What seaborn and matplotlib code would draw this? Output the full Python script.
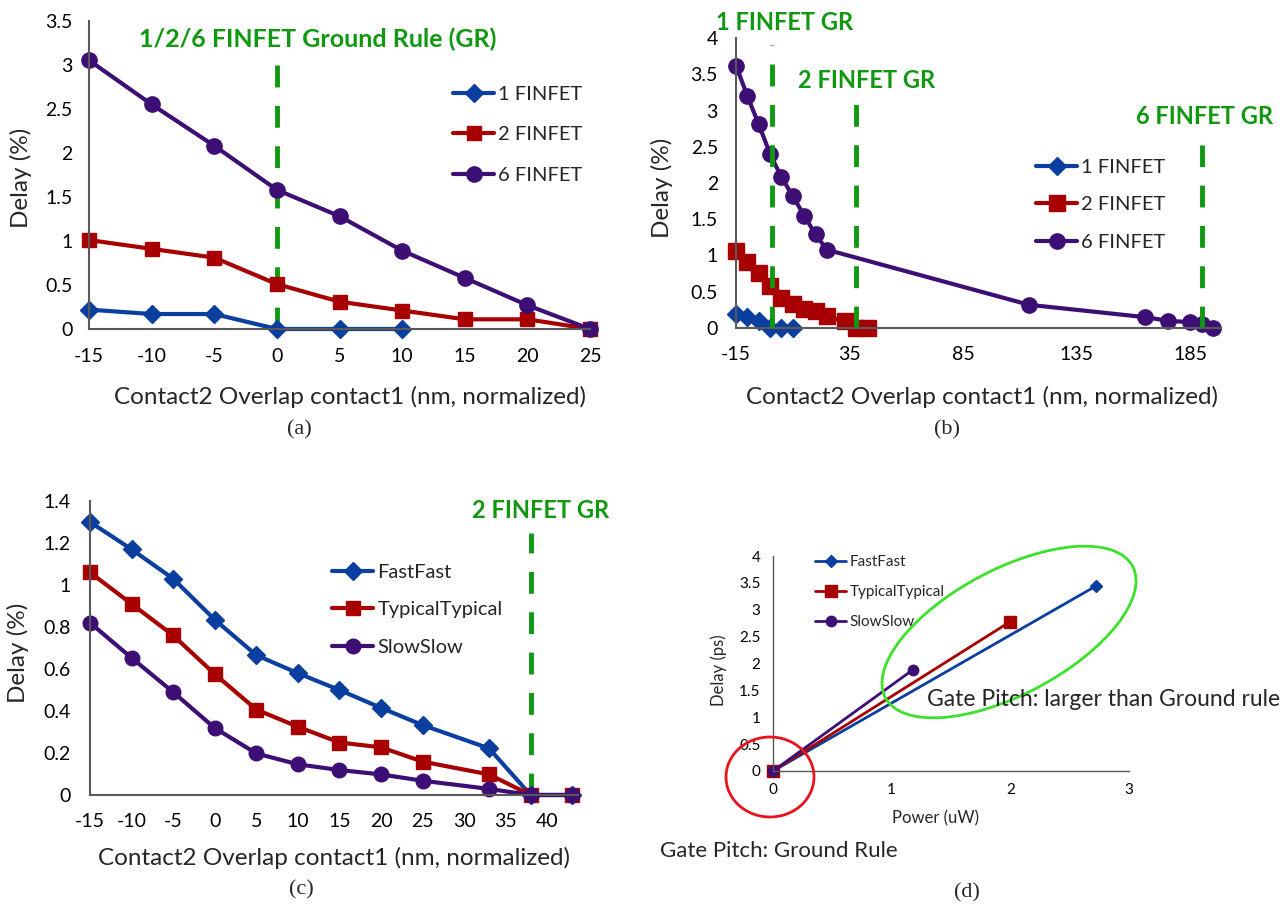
import matplotlib
matplotlib.use('Agg')
import matplotlib.pyplot as plt
import seaborn as sns
from matplotlib.patches import Ellipse

sns.set_style('white')
plt.rcParams['font.family'] = ['Lato', 'DejaVu Sans']
plt.rcParams['axes.unicode_minus'] = False

# ---- data ----
# (a) Excel line chart, categories -15..25
a_x = [-15, -10, -5, 0, 5, 10, 15, 20, 25]
a_x_1fin = [-15, -10, -5, 0, 5, 10]
a_1fin = [0.22, 0.17, 0.17, 0.0, 0.0, 0.0]
a_2fin = [1.01, 0.91, 0.81, 0.51, 0.31, 0.21, 0.11, 0.11, 0.0]
a_6fin = [3.05, 2.55, 2.08, 1.58, 1.28, 0.89, 0.58, 0.27, 0.0]
a_gr = [0]

# (b) scatter with lines
b_x_1fin = [-15, -10, -5, 0, 5, 10]
b_1fin = [0.19, 0.15, 0.10, 0.0, 0.0, 0.0]
b_x_2fin = [-15, -10, -5, 0, 5, 10, 15, 20, 25, 33, 38, 43]
b_2fin = [1.06, 0.91, 0.76, 0.58, 0.41, 0.33, 0.26, 0.23, 0.16, 0.09, 0.0, 0.0]
b_x_6fin = [-15, -10, -5, 0, 5, 10, 15, 20, 25, 114, 165, 175, 185, 190, 195]
b_6fin = [3.62, 3.20, 2.81, 2.40, 2.08, 1.82, 1.55, 1.29, 1.08, 0.32, 0.15, 0.10, 0.08, 0.05, 0.0]
b_gr = [1, 38, 190]
b_gr_labels = ['1 FINFET GR', '2 FINFET GR', '6 FINFET GR']

# (c) process corners
c_x = [-15, -10, -5, 0, 5, 10, 15, 20, 25, 33, 38, 43]
c_fast = [1.30, 1.17, 1.03, 0.835, 0.666, 0.58, 0.50, 0.415, 0.333, 0.222, 0.0, 0.0]
c_typ = [1.06, 0.91, 0.76, 0.576, 0.407, 0.325, 0.25, 0.227, 0.159, 0.098, 0.0, 0.0]
c_slow = [0.82, 0.653, 0.49, 0.319, 0.198, 0.146, 0.119, 0.098, 0.068, 0.029, 0.0, 0.0]
c_gr = [38]

# (d) delay vs power
d_fast_pw = [0, 2.72]
d_fast_dl = [0, 3.44]
d_typ_pw = [0, 2.0]
d_typ_dl = [0, 2.78]
d_slow_pw = [0, 1.18]
d_slow_dl = [0, 1.885]

BLUE = '#0a3f9f'
RED = '#a80000'
PURPLE = '#3d0f75'
GREEN = '#109910'
AXIS = '#595959'
DASH = (0, (4.5, 3.8))

W, H = 1284, 908
fig = plt.figure(figsize=(W / 100, H / 100), dpi=100)


def add_ax(left, top, right, bottom):
    return fig.add_axes([left / W, 1 - bottom / H, (right - left) / W, (bottom - top) / H])


def fig_text(x, y, s, **kw):
    kw.setdefault('ha', 'center')
    kw.setdefault('va', 'center')
    return fig.text(x / W, 1 - y / H, s, **kw)


def style(ax, size, xpad, ypad):
    sns.despine(ax=ax)
    for side in ['left', 'bottom']:
        ax.spines[side].set_color(AXIS)
        ax.spines[side].set_linewidth(1.5)
    ax.tick_params(axis='x', length=0, labelsize=size, pad=xpad, colors='black')
    ax.tick_params(axis='y', length=0, labelsize=size, pad=ypad, colors='black')


def labels(ax, xl, xpos, yl, ypos, size):
    ax.set_xlabel(xl, fontsize=size)
    ax.set_ylabel(yl, fontsize=size)
    ax.xaxis.set_label_coords(xpos[0] / W, 1 - xpos[1] / H, transform=fig.transFigure)
    ax.yaxis.set_label_coords(ypos[0] / W, 1 - ypos[1] / H, transform=fig.transFigure)
    ax.xaxis.label.set_va('center')
    ax.yaxis.label.set_va('center')


def series(ax, x, y, color, marker, ms, lw, label):
    sns.lineplot(x=x, y=y, ax=ax, color=color, marker=marker, markersize=ms,
                 markeredgecolor=color, markeredgewidth=1, linewidth=lw,
                 label=label, clip_on=False, sort=False)


def legend(ax, x, y, size, spacing):
    ax.legend(loc='upper left', bbox_to_anchor=(x / W, 1 - y / H),
              bbox_transform=fig.transFigure, frameon=False, fontsize=size,
              borderpad=0, borderaxespad=0, handlelength=2.05,
              handletextpad=0.2, labelspacing=spacing)


XLAB = 'Contact2 Overlap contact1 (nm, normalized)'

# ---------------- (a) ----------------
ax = add_ax(89, 20.7, 590, 329)
ax.vlines(a_gr, 0, 3.1, colors=GREEN, linestyles=DASH, linewidth=3.5, zorder=1)
series(ax, a_x_1fin, a_1fin, BLUE, 'D', 9, 3, '1 FINFET')
series(ax, a_x, a_2fin, RED, 's', 10, 3, '2 FINFET')
series(ax, a_x, a_6fin, PURPLE, 'o', 11, 3, '6 FINFET')
ax.set_xlim(-15, 25)
ax.set_ylim(0, 3.5)
ax.set_xticks(a_x)
ax.set_yticks([0, 0.5, 1, 1.5, 2, 2.5, 3, 3.5])
ax.set_yticklabels(['0', '0.5', '1', '1.5', '2', '2.5', '3', '3.5'])
style(ax, 14, 14, 12)
labels(ax, XLAB, (350, 397), 'Delay (%)', (21, 178), 17.5)
legend(ax, 453, 86, 14.5, 1.15)
fig_text(318, 39, '1/2/6 FINFET Ground Rule (GR)', color=GREEN, fontsize=18, fontweight='bold')
fig_text(299, 430, '(a)', family='Liberation Serif', fontsize=16)

# ---------------- (b) ----------------
ax = add_ax(736, 38, 1220, 328)
series(ax, b_x_1fin, b_1fin, BLUE, 'D', 9, 3, '1 FINFET')
series(ax, b_x_2fin, b_2fin, RED, 's', 11, 3, '2 FINFET')
series(ax, b_x_6fin, b_6fin, PURPLE, 'o', 11, 3, '6 FINFET')
for gx, top in zip(b_gr, [3.9, 3.19, 2.52]):
    ax.vlines(gx, 0, top, colors=GREEN, linestyles=DASH, linewidth=3.5, zorder=3)
ax.set_xlim(-15, 198)
ax.set_ylim(0, 4)
ax.set_xticks([-15, 35, 85, 135, 185])
ax.set_yticks([0, 0.5, 1, 1.5, 2, 2.5, 3, 3.5, 4])
ax.set_yticklabels(['0', '0.5', '1', '1.5', '2', '2.5', '3', '3.5', '4'])
style(ax, 14, 13, 13)
labels(ax, XLAB, (982, 397), 'Delay (%)', (662, 188), 17.5)
legend(ax, 1036, 159, 14.5, 1.0)
for txt, (tx, ty) in zip(b_gr_labels, [(785, 23), (867, 80), (1204, 117)]):
    fig_text(tx, ty, txt, color=GREEN, fontsize=17, fontweight='bold')
fig_text(947, 430, '(b)', family='Liberation Serif', fontsize=16)

# ---------------- (c) ----------------
ax = add_ax(90, 501, 578, 795)
ax.vlines(c_gr, 0, 1.25, colors=GREEN, linestyles=DASH, linewidth=3.5, zorder=1)
series(ax, c_x, c_fast, BLUE, 'D', 9, 3, 'FastFast')
series(ax, c_x, c_typ, RED, 's', 10, 3, 'TypicalTypical')
series(ax, c_x, c_slow, PURPLE, 'o', 10.5, 3, 'SlowSlow')
ax.set_xlim(-15, 43.7)
ax.set_ylim(0, 1.4)
ax.set_xticks(list(range(-15, 41, 5)))
ax.set_yticks([0, 0.2, 0.4, 0.6, 0.8, 1.0, 1.2, 1.4])
ax.set_yticklabels(['0', '0.2', '0.4', '0.6', '0.8', '1', '1.2', '1.4'])
style(ax, 14, 13, 14)
labels(ax, XLAB, (334, 858), 'Delay (%)', (18, 653), 17.5)
legend(ax, 332, 564, 14.5, 1.0)
fig_text(541, 511, '2 FINFET GR', color=GREEN, fontsize=17, fontweight='bold')
fig_text(301, 890, '(c)', family='Liberation Serif', fontsize=16)

# ---------------- (d) ----------------
ax = add_ax(773, 556, 1129, 771)
series(ax, d_fast_pw, d_fast_dl, BLUE, 'D', 6.5, 2, 'FastFast')
series(ax, d_typ_pw, d_typ_dl, RED, 's', 8, 2, 'TypicalTypical')
series(ax, d_slow_pw, d_slow_dl, PURPLE, 'o', 7.5, 2, 'SlowSlow')
ax.set_xlim(0, 3)
ax.set_ylim(0, 4)
ax.set_xticks([0, 1, 2, 3])
ax.set_yticks([0, 0.5, 1, 1.5, 2, 2.5, 3, 3.5, 4])
ax.set_yticklabels(['0', '0.5', '1', '1.5', '2', '2.5', '3', '3.5', '4'])
style(ax, 11, 9, 9)
for side in ['left', 'bottom']:
    ax.spines[side].set_linewidth(1)
labels(ax, 'Power (uW)', (935, 818), 'Delay (ps)', (719, 670), 12)
legend(ax, 815, 555, 11, 1.05)
fig_text(1104, 700, 'Gate Pitch: larger than Ground rule', fontsize=16.5)
fig_text(779, 851, 'Gate Pitch: Ground Rule', fontsize=16)
fig_text(967, 893, '(d)', family='Liberation Serif', fontsize=16)

fig.add_artist(Ellipse((10.09, 2.76), 2.8, 1.25, angle=28, fill=False,
                       edgecolor='#3be12b', linewidth=2, transform=fig.dpi_scale_trans))
fig.add_artist(Ellipse((7.70, 1.31), 0.88, 0.80, angle=0, fill=False,
                       edgecolor='#e8141c', linewidth=2, transform=fig.dpi_scale_trans))

fig.savefig('out.png', dpi=100, facecolor='white')
